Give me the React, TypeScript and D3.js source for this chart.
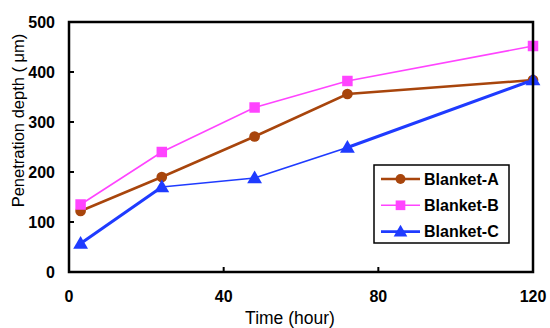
import React, { useEffect, useRef } from "react";
import * as d3 from "d3";

// chart values
const hours = [3, 24, 48, 72, 120];
const blanketA = [122, 190, 271, 356, 384];
const blanketB = [135, 240, 329, 382, 452];
const blanketC = [57, 170, 188, 249, 384];
const xTicks = [0, 40, 80, 120];
const yTicks = [0, 100, 200, 300, 400, 500];
const seriesNames = ["Blanket-A", "Blanket-B", "Blanket-C"];

const W = 550;
const H = 328;
const margin = { top: 22, right: 17, bottom: 56, left: 69 };
const innerW = W - margin.left - margin.right;
const innerH = H - margin.top - margin.bottom;

const styles = [
  { color: "#A8450C", width: 2.5, symbol: d3.symbolCircle, size: 90 },
  { color: "#FF44FF", width: 1.6, symbol: d3.symbolSquare, size: 110 },
  { color: "#1F3BFF", width: 2.4, symbol: d3.symbolTriangle, size: 95 },
];
// blanket C line is drawn thinner in its middle segments
const segWidthsC = [3, 1.5, 1.8, 3];

function App() {
  const ref = useRef<SVGSVGElement>(null);

  useEffect(() => {
    const svg = d3.select(ref.current).html("");
    const font = "Arial, 'Liberation Sans', sans-serif";

    const x = d3.scaleLinear().domain([0, 120]).range([0, innerW]);
    const y = d3.scaleLinear().domain([0, 500]).range([innerH, 0]);

    const g = svg.append("g").attr("transform", `translate(${margin.left},${margin.top})`);

    // inward ticks on left and bottom
    g.append("g")
      .selectAll("line")
      .data(yTicks.slice(1, -1))
      .enter()
      .append("line")
      .attr("x1", 0)
      .attr("x2", 5)
      .attr("y1", (d) => y(d))
      .attr("y2", (d) => y(d))
      .attr("stroke", "#000")
      .attr("stroke-width", 2);
    g.append("g")
      .selectAll("line")
      .data(xTicks.slice(1, -1))
      .enter()
      .append("line")
      .attr("x1", (d) => x(d))
      .attr("x2", (d) => x(d))
      .attr("y1", innerH)
      .attr("y2", innerH - 5)
      .attr("stroke", "#000")
      .attr("stroke-width", 2);

    // tick labels
    g.append("g")
      .selectAll("text")
      .data(yTicks)
      .enter()
      .append("text")
      .attr("x", -14)
      .attr("y", (d) => y(d))
      .attr("dy", "0.35em")
      .attr("text-anchor", "end")
      .attr("font-family", font)
      .attr("font-weight", "bold")
      .attr("font-size", 16)
      .text((d) => d);
    g.append("g")
      .selectAll("text")
      .data(xTicks)
      .enter()
      .append("text")
      .attr("x", (d) => x(d))
      .attr("y", innerH + 30)
      .attr("text-anchor", "middle")
      .attr("font-family", font)
      .attr("font-weight", "bold")
      .attr("font-size", 16)
      .text((d) => d);

    // axis titles
    svg.append("text")
      .attr("x", margin.left + innerW / 2 - 11)
      .attr("y", 324)
      .attr("text-anchor", "middle")
      .attr("font-family", font)
      .attr("font-size", 17.5)
      .text("Time (hour)");
    svg.append("text")
      .attr("transform", `translate(24,${margin.top + 98.5}) rotate(-90)`)
      .attr("text-anchor", "middle")
      .attr("font-family", font)
      .attr("font-size", 16.5)
      .text("Penetration depth ( μm)");

    const all = [blanketA, blanketB, blanketC];
    const line = d3.line<number>().x((_, i) => x(hours[i])).y((d) => y(d));

    all.forEach((vals, si) => {
      const st = styles[si];
      if (si === 2) {
        g.append("g")
          .selectAll("line")
          .data(vals.slice(1))
          .enter()
          .append("line")
          .attr("x1", (_, i) => x(hours[i]))
          .attr("y1", (_, i) => y(vals[i]))
          .attr("x2", (_, i) => x(hours[i + 1]))
          .attr("y2", (d) => y(d))
          .attr("stroke", st.color)
          .attr("stroke-width", (_, i) => segWidthsC[i])
          .attr("stroke-linecap", "round");
      } else {
        g.append("path")
          .datum(vals)
          .attr("d", line)
          .attr("fill", "none")
          .attr("stroke", st.color)
          .attr("stroke-width", st.width);
      }
    });

    all.forEach((vals, si) => {
      const st = styles[si];
      g.append("g")
        .selectAll("path")
        .data(vals)
        .enter()
        .append("path")
        .attr("transform", (d, i) => `translate(${x(hours[i])},${y(d) + (si === 2 ? 1 : 0)})`)
        .attr("d", d3.symbol().type(st.symbol).size(st.size)())
        .attr("fill", st.color);
    });

    // frame
    g.append("rect")
      .attr("width", innerW)
      .attr("height", innerH)
      .attr("fill", "none")
      .attr("stroke", "#000")
      .attr("stroke-width", 2.5);

    // legend
    const lg = g.append("g").attr("transform", `translate(${374 - margin.left},${165 - margin.top})`);
    lg.append("rect")
      .attr("width", 135)
      .attr("height", 78)
      .attr("fill", "#fff")
      .attr("stroke", "#000")
      .attr("stroke-width", 1.5);
    seriesNames.forEach((name, i) => {
      const st = styles[i];
      const yy = 14 + i * 26.3;
      lg.append("line")
        .attr("x1", 7)
        .attr("x2", 46)
        .attr("y1", yy)
        .attr("y2", yy)
        .attr("stroke", st.color)
        .attr("stroke-width", i === 1 ? 1.6 : 2.6);
      lg.append("path")
        .attr("transform", `translate(26.5,${yy + (i === 2 ? 1 : 0)})`)
        .attr("d", d3.symbol().type(st.symbol).size(st.size * 0.85)())
        .attr("fill", st.color);
      lg.append("text")
        .attr("x", 50)
        .attr("y", yy)
        .attr("dy", "0.35em")
        .attr("font-family", font)
        .attr("font-weight", "bold")
        .attr("font-size", 16)
        .text(name);
    });
  }, []);

  return (
    <svg
      ref={ref}
      width={W}
      height={H}
      style={{ position: "absolute", left: 0, top: 0, background: "#fff" }}
    ></svg>
  );
}

export default App;
